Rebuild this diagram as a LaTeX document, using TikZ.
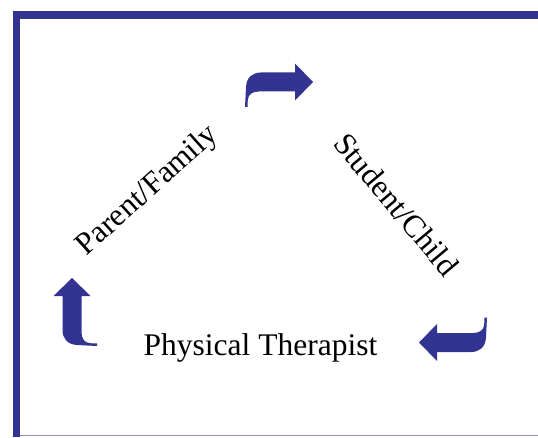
\documentclass[tikz,border=0pt]{standalone}
\usepackage{fontspec}
\setmainfont{Liberation Serif}
\definecolor{framecol}{RGB}{51,51,145}
\definecolor{thincol}{RGB}{150,140,200}
\definecolor{arrowcol}{RGB}{51,51,145}
\tikzset{
  label text/.style={font=\fontsize{31.5}{36}\selectfont, inner sep=0pt},
  bentarrow/.pic={
    \fill[arrowcol] (0,0) -- (-18,18.5) -- (-18,9.5) -- (-52,9.5)
      .. controls (-60,9.5) and (-66.5,5) .. (-67,-5)
      -- (-68,-25) -- (-65.5,-25) -- (-65.2,-18)
      .. controls (-64.8,-12) and (-60,-9.5) .. (-54,-9.5)
      -- (-18,-9.5) -- (-18,-18.5) -- cycle;
  }
}
\begin{document}
\begin{tikzpicture}[x=1pt,y=1pt]
  \useasboundingbox (0,0) rectangle (538,437);
  % frame
  \fill[framecol] (13,418) rectangle (538,426);
  \fill[framecol] (13,0) rectangle (20,426);
  \draw[thincol, line width=1pt] (20,1.5) -- (538,1.5);
  % labels
  \node[label text, rotate=42] (parent) at (148,246) {Parent/Family};
  \node[label text, rotate=-50] (student) at (396.5,232.5) {Student/Child};
  \node[label text, anchor=base] (pt) at (260.5,82) {Physical Therapist};
  % bent arrows
  \pic at (313,355) {bentarrow};
  \pic[rotate=180] at (419,94.5) {bentarrow};
  \pic[rotate=90] at (72,159) {bentarrow};
\end{tikzpicture}
\end{document}
